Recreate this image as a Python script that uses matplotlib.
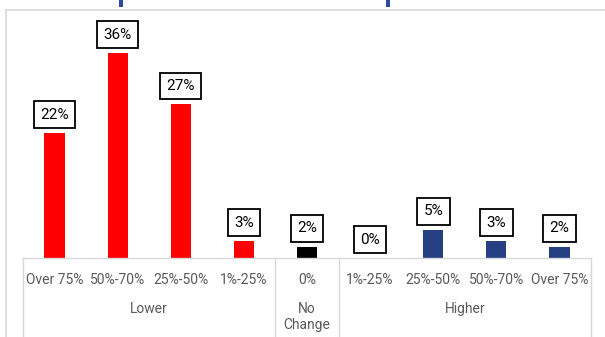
import matplotlib.pyplot as plt
from matplotlib.lines import Line2D
from matplotlib.patches import Rectangle
import matplotlib.transforms as mtransforms

plt.rcParams['font.family'] = ['Roboto', 'DejaVu Sans']

# Share of respondents by change bucket
categories = ['Over 75%', '50%-70%', '25%-50%', '1%-25%', '0%',
              '1%-25%', '25%-50%', '50%-70%', 'Over 75%']
values = [22, 36, 27, 3, 2, 0, 5, 3, 2]
colors = ['#ff0000'] * 4 + ['#000000'] + ['#263f83'] * 4
groups = ['Lower', 'No\nChange', 'Higher']
group_centers = [1.5, 4, 6.5]
group_edges = [-0.5, 3.5, 4.5, 8.5]

W, H = 605, 337
fig = plt.figure(figsize=(W / 100, H / 100), dpi=100)
ax = fig.add_axes([23 / W, (H - 258) / H, 568 / W, 245 / H])

x = range(len(values))
ax.bar(x, values, width=0.32, color=colors)
ax.set_xlim(-0.5, 8.5)
ax.set_ylim(0, 43)

for xi, v in zip(x, values):
    ax.annotate(f'{v}%', (xi, v), xytext=(0, 8), textcoords='offset points',
                ha='center', va='bottom', fontsize=11, color='#000000',
                bbox=dict(boxstyle='square,pad=0.42', fc='white', ec='#000000', lw=1.3))

ax.set_xticks(list(x))
ax.set_xticklabels(categories, fontsize=10, color='#595959')
ax.tick_params(axis='x', length=0, pad=10.5)
ax.set_yticks([])
for s in ['top', 'left', 'right']:
    ax.spines[s].set_visible(False)
ax.spines['bottom'].set_color('#d9d9d9')
ax.spines['bottom'].set_linewidth(1)

# category table lines below the axis
trans = mtransforms.blended_transform_factory(ax.transData, ax.transAxes)
for e in group_edges:
    ax.add_line(Line2D([e, e], [0, -0.4], transform=trans, color='#d9d9d9',
                       lw=1, clip_on=False))
for gx, g in zip(group_centers, groups):
    ax.text(gx, -0.18, g, transform=trans, ha='center', va='top',
            fontsize=10, color='#595959', linespacing=1.15)

# outer chart frame
fy = 1 - 10 / H
fx = 6 / W
fig.add_artist(Line2D([fx, 1], [fy, fy], color='#d9d9d9', lw=1.2))
fig.add_artist(Line2D([fx, fx], [0, fy], color='#d9d9d9', lw=1.2))

# marks from the header above
for px in [119, 386]:
    fig.add_artist(Rectangle((px / W, 1 - 7 / H), 4 / W, 7 / H,
                             color='#2e4a9e', lw=0))

fig.savefig('out.png', dpi=100)
